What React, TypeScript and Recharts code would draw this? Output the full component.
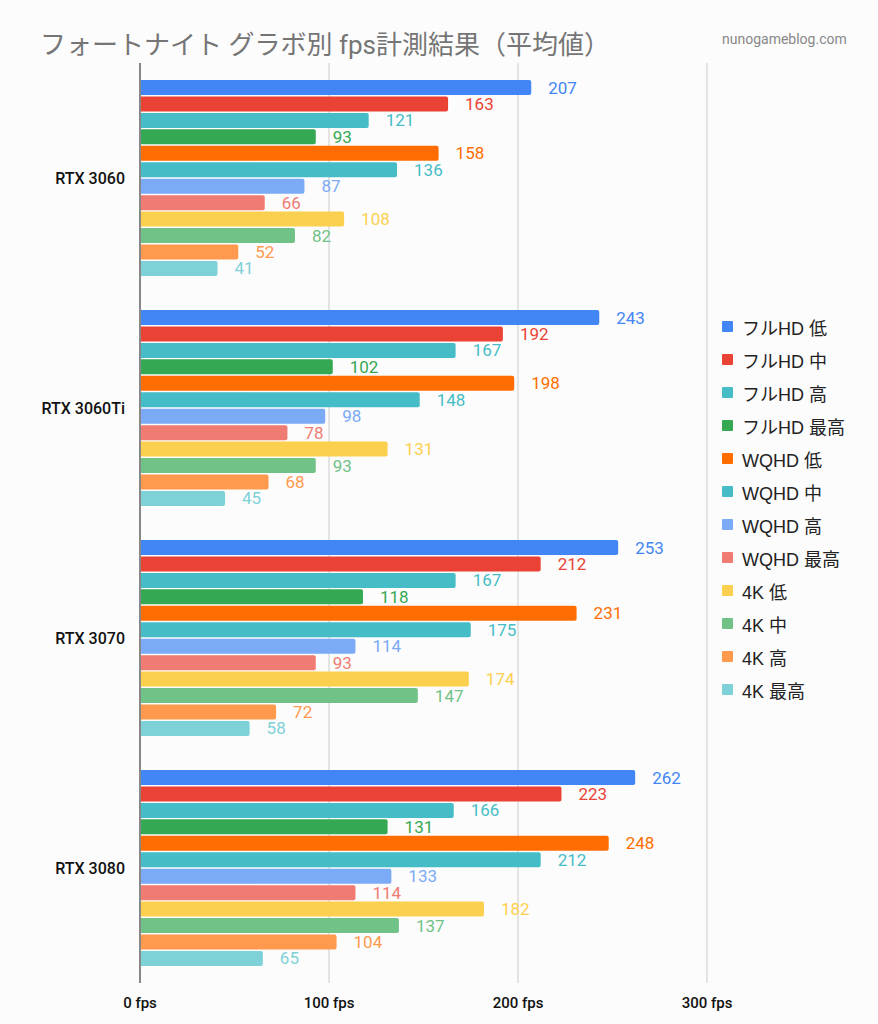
import React from "react";
import {
  Bar,
  BarChart,
  CartesianGrid,
  LabelList,
  Legend,
  XAxis,
  YAxis,
} from "recharts";

const gpus = ["RTX 3060", "RTX 3060Ti", "RTX 3070", "RTX 3080"];

const seriesNames = [
  "フルHD 低",
  "フルHD 中",
  "フルHD 高",
  "フルHD 最高",
  "WQHD 低",
  "WQHD 中",
  "WQHD 高",
  "WQHD 最高",
  "4K 低",
  "4K 中",
  "4K 高",
  "4K 最高",
];

const seriesColors = [
  "#4285f4",
  "#ea4335",
  "#46bdc6",
  "#34a853",
  "#ff6d01",
  "#46bdc6",
  "#7baaf7",
  "#f07b72",
  "#fcd04f",
  "#71c287",
  "#ff994d",
  "#7ed1d7",
];

// fps per GPU, in series order
const rtx3060 = [207, 163, 121, 93, 158, 136, 87, 66, 108, 82, 52, 41];
const rtx3060ti = [243, 192, 167, 102, 198, 148, 98, 78, 131, 93, 68, 45];
const rtx3070 = [253, 212, 167, 118, 231, 175, 114, 93, 174, 147, 72, 58];
const rtx3080 = [262, 223, 166, 131, 248, 212, 133, 114, 182, 137, 104, 65];

const xTicks = [0, 100, 200, 300];

const rows = [rtx3060, rtx3060ti, rtx3070, rtx3080];

const chartData = gpus.map((name, i) => {
  const row: Record<string, string | number> = { name };
  seriesNames.forEach((s, j) => {
    row[`s${j}`] = rows[i][j];
  });
  return row;
});

const font = "Roboto, 'Noto Sans CJK JP', sans-serif";
const legendFont = "'Liberation Sans', 'Noto Sans CJK JP', sans-serif";

function LegendBox() {
  return (
    <div style={{ fontFamily: legendFont }}>
      {seriesNames.map((s, i) => (
        <div
          key={s}
          style={{
            display: "flex",
            alignItems: "center",
            height: 33,
            fontSize: 18,
            color: "#222",
            whiteSpace: "nowrap",
          }}
        >
          <span
            style={{
              display: "inline-block",
              width: 11,
              height: 11,
              background: seriesColors[i],
              marginRight: 9,
              borderRadius: 1,
            }}
          />
          {s}
        </div>
      ))}
    </div>
  );
}

export default function App() {
  return (
    <div
      style={{
        position: "absolute",
        left: 0,
        top: 0,
        width: 878,
        height: 1024,
        background: "#fcfcfc",
        fontFamily: font,
      }}
    >
      <div
        style={{
          position: "absolute",
          left: 40,
          top: 24,
          fontSize: 26,
          color: "#757575",
          whiteSpace: "nowrap",
        }}
      >
        フォートナイト グラボ別 fps計測結果（平均値）
      </div>
      <div
        style={{
          position: "absolute",
          left: 722,
          top: 31,
          fontSize: 14,
          color: "#888",
        }}
      >
        nunogameblog.com
      </div>
      <BarChart
        width={878}
        height={1024}
        data={chartData}
        layout="vertical"
        margin={{ top: 63, right: 171, bottom: 11, left: 10 }}
        barSize={15}
        barGap={1.45}
      >
        <CartesianGrid horizontal={false} stroke="#ccc" />
        <XAxis
          type="number"
          domain={[0, 300]}
          ticks={xTicks}
          tickFormatter={(v) => `${v} fps`}
          axisLine={false}
          tickLine={false}
          height={30}
          tickMargin={8}
          tick={{ fill: "#111", fontSize: 15, fontWeight: 500 }}
        />
        <YAxis
          type="category"
          dataKey="name"
          width={130}
          axisLine={{ stroke: "#888", strokeWidth: 2 }}
          tickLine={false}
          tickMargin={9}
          tick={{ fill: "#111", fontSize: 16, fontWeight: 500 }}
        />
        <Legend
          layout="horizontal"
          verticalAlign="middle"
          align="center"
          wrapperStyle={{ left: 722, top: 310, width: 156 }}
          content={() => <LegendBox />}
        />
        {seriesNames.map((s, j) => (
          <Bar
            key={s}
            dataKey={`s${j}`}
            name={s}
            fill={seriesColors[j]}
            radius={[0, 2, 2, 0]}
            isAnimationActive={false}
          >
            <LabelList
              dataKey={`s${j}`}
              position="right"
              offset={17}
              fill={seriesColors[j]}
              fontSize={17}
            />
          </Bar>
        ))}
      </BarChart>
    </div>
  );
}
